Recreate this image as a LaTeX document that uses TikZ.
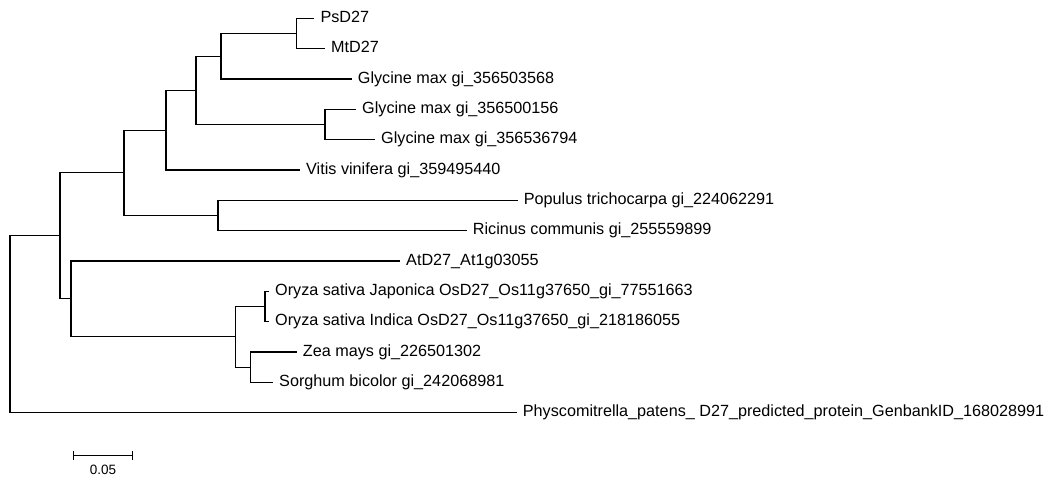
\documentclass[tikz,border=0pt]{standalone}
\usepackage{fontspec}
\setmainfont{Liberation Sans}
\begin{document}
\begin{tikzpicture}[x=1pt,y=-1pt,
  br/.style={line width=1.1pt, black},
  leaf/.style={anchor=west, inner sep=0pt, xshift=6pt, font=\fontsize{16.2}{19}\selectfont, text height=11.6pt, text depth=3.4pt}]
\useasboundingbox (0,0) rectangle (1047,478);
% internal nodes
\coordinate (R)  at (10,324.3);
\coordinate (A)  at (60,235.9);
\coordinate (B)  at (124,172.85);
\coordinate (C)  at (166,130.2);
\coordinate (D)  at (196,90.35);
\coordinate (E)  at (221,56.2);
\coordinate (F)  at (296.7,33.45);
\coordinate (G)  at (325,124.5);
\coordinate (H)  at (218,215.5);
\coordinate (A2) at (71,298.9);
\coordinate (I)  at (235.5,336.9);
\coordinate (J)  at (265,306.55);
\coordinate (K)  at (250.7,367.2);
% leaves (branch tips)
\coordinate (ps)  at (314.3,18.3);
\coordinate (mt)  at (325,48.6);
\coordinate (g1)  at (351.7,79.0);
\coordinate (g2)  at (356,109.3);
\coordinate (g3)  at (375,139.7);
\coordinate (vi)  at (300,170.0);
\coordinate (po)  at (517.7,200.3);
\coordinate (ri)  at (466.7,230.7);
\coordinate (at)  at (400,261.0);
\coordinate (oj)  at (269,291.4);
\coordinate (oi)  at (269,321.7);
\coordinate (ze)  at (296.7,352.0);
\coordinate (so)  at (273,382.4);
\coordinate (ph)  at (516.7,412.7);
% labels
\node[leaf] (tps) at (ps) {PsD27};
\node[leaf] (tmt) at (mt) {MtD27};
\node[leaf] (tg1) at (g1) {Glycine max gi\_356503568};
\node[leaf] (tg2) at (g2) {Glycine max gi\_356500156};
\node[leaf] (tg3) at (g3) {Glycine max gi\_356536794};
\node[leaf] (tvi) at (vi) {Vitis vinifera gi\_359495440};
\node[leaf] (tpo) at (po) {Populus trichocarpa gi\_224062291};
\node[leaf] (tri) at (ri) {Ricinus communis gi\_255559899};
\node[leaf] (tat) at (at) {AtD27\_At1g03055};
\node[leaf] (toj) at (oj) {Oryza sativa Japonica OsD27\_Os11g37650\_gi\_77551663};
\node[leaf] (toi) at (oi) {Oryza sativa Indica OsD27\_Os11g37650\_gi\_218186055};
\node[leaf] (tze) at (ze) {Zea mays gi\_226501302};
\node[leaf] (tso) at (so) {Sorghum bicolor gi\_242068981};
\node[leaf] (tph) at (ph) {Physcomitrella\_patens\_ D27\_predicted\_protein\_GenbankID\_168028991};
% branches
\draw[br] (R) |- (A);
\draw[br] (R) |- (ph);
\draw[br] (A) |- (B);
\draw[br] (A) |- (A2);
\draw[br] (B) |- (C);
\draw[br] (B) |- (H);
\draw[br] (C) |- (D);
\draw[br] (C) |- (vi);
\draw[br] (D) |- (E);
\draw[br] (D) |- (G);
\draw[br] (E) |- (F);
\draw[br] (E) |- (g1);
\draw[br] (F) |- (ps);
\draw[br] (F) |- (mt);
\draw[br] (G) |- (g2);
\draw[br] (G) |- (g3);
\draw[br] (H) |- (po);
\draw[br] (H) |- (ri);
\draw[br] (A2) |- (at);
\draw[br] (A2) |- (I);
\draw[br] (I) |- (J);
\draw[br] (I) |- (K);
\draw[br] (J) |- (oj);
\draw[br] (J) |- (oi);
\draw[br] (K) |- (ze);
\draw[br] (K) |- (so);
% scale bar
\coordinate (s1) at (73.3,455.7);
\coordinate (s2) at (132.3,455.7);
\draw[br] (s1) -- (s2);
\draw[br] ([yshift=-4.5pt]s1) -- ([yshift=4.5pt]s1);
\draw[br] ([yshift=-4.5pt]s2) -- ([yshift=4.5pt]s2);
\node[font=\fontsize{13.5}{15}\selectfont, inner sep=0pt, anchor=base] (sl) at (103,474.3) {0.05};
\end{tikzpicture}
\end{document}
